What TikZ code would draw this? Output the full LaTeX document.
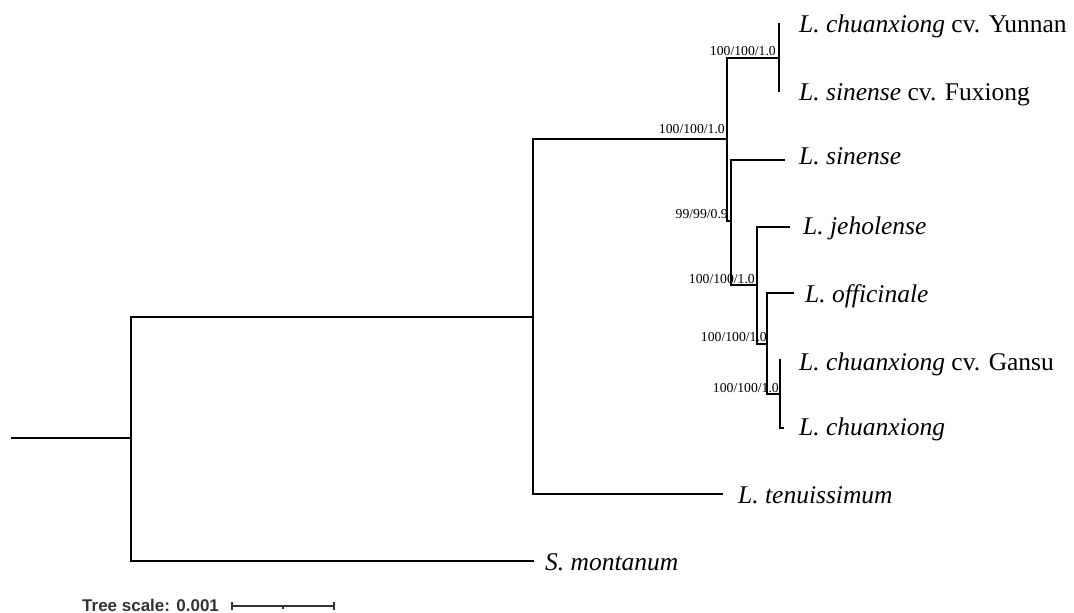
\documentclass[tikz,border=0pt]{standalone}
\usepackage{fontspec}
\setmainfont{Liberation Serif}
\newfontfamily\barfont{Liberation Sans}
\definecolor{scalegray}{HTML}{333333}
\begin{document}
\begin{tikzpicture}[x=1pt,y=-1pt,
  branch/.style={line width=2.6pt, line cap=rect},
  support/.style={font=\fontsize{13.7}{15}\selectfont, inner sep=0pt, anchor=base east},
  taxon/.style={font=\fontsize{25.5}{30}\selectfont, inner sep=0pt, anchor=base west},
  scalebar/.style={line width=1.2pt, scalegray}]
\useasboundingbox (0,0) rectangle (1074,613);

% internal nodes and tips
\coordinate (start) at (12,438);
\coordinate (R) at (131,438);
\coordinate (N1) at (533,317);
\coordinate (A) at (727,139);
\coordinate (F) at (779,58);
\coordinate (B) at (731,221);
\coordinate (C) at (757,285);
\coordinate (D) at (767,344);
\coordinate (E) at (780,394);
\coordinate (tYun) at (779,24);
\coordinate (tFux) at (779,91);
\coordinate (tSin) at (784,160);
\coordinate (tJeh) at (789,227);
\coordinate (tOff) at (793,293);
\coordinate (tGan) at (780,360);
\coordinate (tChu) at (783,428);
\coordinate (tTen) at (722,494);
\coordinate (tMon) at (533,561);

% branches
\draw[branch] (start) -- (R);
\draw[branch] (R) |- (N1);
\draw[branch] (R) |- (tMon);
\draw[branch] (N1) |- (A);
\draw[branch] (N1) |- (tTen);
\draw[branch] (A) |- (F);
\draw[branch] (A) |- (B);
\draw[branch] (F) |- (tYun);
\draw[branch] (F) |- (tFux);
\draw[branch] (B) |- (tSin);
\draw[branch] (B) |- (C);
\draw[branch] (C) |- (tJeh);
\draw[branch] (C) |- (D);
\draw[branch] (D) |- (tOff);
\draw[branch] (D) |- (E);
\draw[branch] (E) |- (tGan);
\draw[branch] (E) |- (tChu);

% support values
\node[support] (sF) at ([shift={(-3,-3)}]F) {100/100/1.0};
\node[support] (sA) at ([shift={(-2,-6)}]A) {100/100/1.0};
\node[support] (sB) at ([shift={(-3,-3)}]B) {99/99/0.9};
\node[support] (sC) at ([shift={(-2,-2)}]C) {100/100/1.0};
\node[support] (sD) at ([shift={(0,-3)}]D) {100/100/1.0};
\node[support] (sE) at ([shift={(-1,-2)}]E) {100/100/1.0};

% taxon labels
\node[taxon] (lYun) at (799,32) {\textit{L. chuanxiong} cv. Yunnan};
\node[taxon] (lFux) at (799,100) {\textit{L. sinense} cv. Fuxiong};
\node[taxon] (lSin) at (799,164) {\textit{L. sinense}};
\node[taxon] (lJeh) at (803,234) {\textit{L. jeholense}};
\node[taxon] (lOff) at (805,302) {\textit{L. officinale}};
\node[taxon] (lGan) at (799,370) {\textit{L. chuanxiong} cv. Gansu};
\node[taxon] (lChu) at (799,435) {\textit{L. chuanxiong}};
\node[taxon] (lTen) at (738,503) {\textit{L. tenuissimum}};
\node[taxon] (lMon) at (545,570) {\textit{S. montanum}};

% scale bar
\coordinate (s0) at (232,606);
\coordinate (sm) at (283,606);
\coordinate (s1) at (334,606);
\draw[scalebar] (s0) -- (s1);
\draw[scalebar] ([yshift=-4]s0) -- ([yshift=4]s0);
\draw[scalebar] ([yshift=-4]s1) -- ([yshift=4]s1);
\draw[scalebar] (sm) -- ([yshift=-3]sm);
\node[anchor=base west, inner sep=0pt, text=scalegray,
      font={\barfont\bfseries\fontsize{17}{20}\selectfont}] (ts) at (82,611) {Tree scale: 0.001};
\end{tikzpicture}
\end{document}
